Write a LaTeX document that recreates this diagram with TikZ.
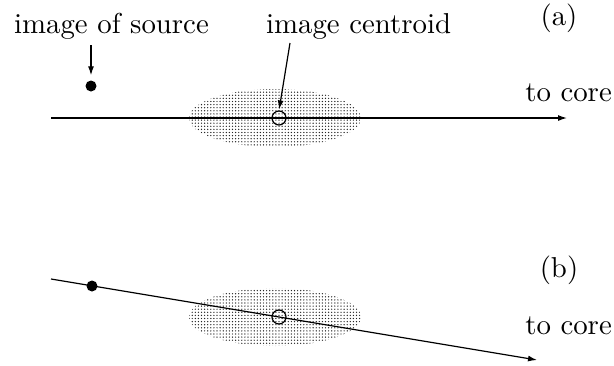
\documentclass[tikz,border=0pt]{standalone}
\usepackage{fontspec}
\setmainfont{lmroman10}[Extension=.otf,UprightFont=*-regular]
\usetikzlibrary{arrows.meta,patterns.meta,shapes.geometric}
\begin{document}
\begin{tikzpicture}[x=1pt,y=-1pt,
  lbl/.style={inner sep=0pt,font=\fontsize{28.8}{32}\selectfont},
  arr/.style={line width=1.2pt,-{Latex[length=9pt,width=6pt]}},
  blob/.style={ellipse,inner sep=0pt,minimum width=172pt,minimum height=58pt,
    pattern={Dots[distance=3.1pt,radius=0.7pt]},pattern color=black!85},
  ring/.style={circle,draw,line width=1.2pt,inner sep=0pt,minimum size=14pt},
  src/.style={circle,fill=black,inner sep=0pt,minimum size=11pt}]
\useasboundingbox (0,0) rectangle (614,365);
% labels
\node[lbl,anchor=base west] (tsrc) at (14,33) {image of source};
\node[lbl,anchor=base west] (tcen) at (266,33) {image centroid};
\node[lbl] (la) at (559,18) {(a)};
\node[lbl,anchor=base east] (tca) at (612,101) {to core};
\node[lbl] (lb) at (559,270) {(b)};
\node[lbl,anchor=base east] (tcb) at (612,334) {to core};
% panel (a)
\node[blob] (ea) at (275,118) {};
\coordinate (a0) at (51,118);
\coordinate (a1) at (567,118);
\draw[arr] (a0) -- (a1);
\node[ring] (ca) at (279,118) {};
\node[src] (sa) at (91,86) {};
\draw[arr,shorten <=6pt,shorten >=5pt] (tsrc.south -| sa) -- (sa.north);
\coordinate (cs) at (290,43);
\draw[arr,shorten >=1pt] (cs) -- (ca.north);
% panel (b)
\node[blob] (eb) at (275,317) {};
\coordinate (b0) at (51,279);
\coordinate (b1) at (537,360);
\draw[arr] (b0) -- (b1);
\node[ring] (cb) at (279,317) {};
\node[src] (sb) at (92,286) {};
\end{tikzpicture}
\end{document}
